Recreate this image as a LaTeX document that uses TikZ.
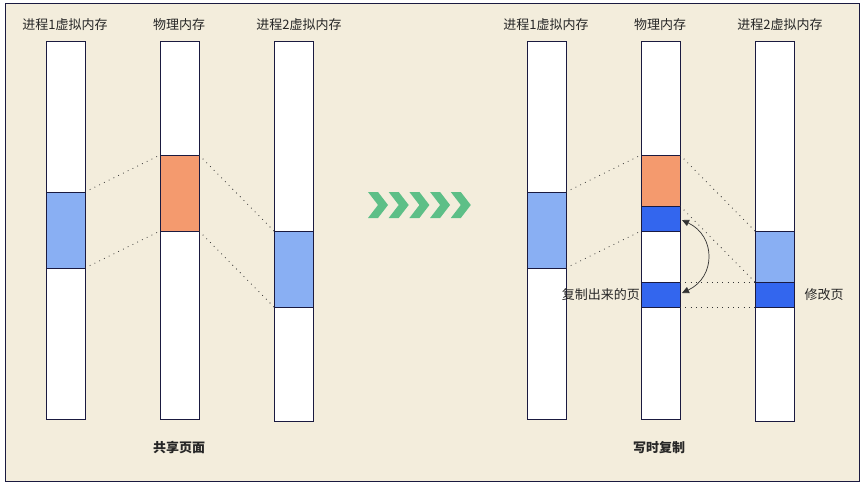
\documentclass[tikz,border=0pt]{standalone}
\usepackage{fontspec}
\newfontfamily\cjk{Noto Sans CJK SC}
\usetikzlibrary{arrows.meta}
\definecolor{bgc}{RGB}{243,237,220}
\definecolor{navy}{RGB}{26,26,64}
\definecolor{lblue}{RGB}{137,175,243}
\definecolor{dblue}{RGB}{51,102,238}
\definecolor{orng}{RGB}{244,154,110}
\definecolor{grn}{RGB}{93,191,135}
\tikzset{
  col/.style={draw=navy,fill=white,line width=0.9pt,rectangle,anchor=north west,minimum width=39pt,inner sep=0pt,outer sep=0pt},
  blk/.style={draw=navy,line width=0.9pt,rectangle,anchor=north west,minimum width=39pt,inner sep=0pt,outer sep=0pt},
  ttl/.style={font=\cjk\fontsize{13}{15}\selectfont,text=black!85,inner sep=0pt},
  captxt/.style={font=\cjk\bfseries\fontsize{13}{15}\selectfont,text=black!85,inner sep=0pt},
  dotl/.style={black!80,line width=0.8pt,dash pattern=on 0.8pt off 4.5pt},
}
\begin{document}
\begin{tikzpicture}[x=1pt,y=-1pt]
\useasboundingbox (0,0) rectangle (864,485);
\fill[white] (0,0) rectangle (864,485);
\draw[navy,fill=bgc,line width=0.9pt] (5,3) rectangle (859,481);
% ---------- left diagram ----------
\node[ttl] (tL1) at (65,25) {进程1虚拟内存};
\node[ttl] (tL2) at (179,25) {物理内存};
\node[ttl] (tL3) at (299,25) {进程2虚拟内存};
\node[col,minimum height=378pt] (L1) at (46,41) {};
\node[col,minimum height=378pt] (L2) at (160,41) {};
\node[col,minimum height=380pt] (L3) at (274,41) {};
\node[blk,fill=lblue,minimum height=76pt] (L1b) at (46,192) {};
\node[blk,fill=orng,minimum height=76pt] (L2o) at (160,155) {};
\node[blk,fill=lblue,minimum height=76pt] (L3b) at (274,231) {};
\draw[dotl] (L1b.north east) -- (L2o.north west);
\draw[dotl] (L1b.south east) -- (L2o.south west);
\draw[dotl] (L2o.north east) -- (L3b.north west);
\draw[dotl] (L2o.south east) -- (L3b.south west);
\node[captxt] (cL) at (179,448) {共享页面};
% ---------- chevrons ----------
\foreach \i in {0,...,4}{
  \fill[grn] ({368+20.7*\i},192) -- ++(10,0) -- ++(10,13) -- ++(-10,13) -- ++(-10,0) -- ++(10,-13) -- cycle;
}
% ---------- right diagram ----------
\node[ttl] (tR1) at (546,25) {进程1虚拟内存};
\node[ttl] (tR2) at (660,25) {物理内存};
\node[ttl] (tR3) at (780,25) {进程2虚拟内存};
\node[col,minimum height=378pt] (R1) at (527,41) {};
\node[col,minimum height=378pt] (R2) at (641,41) {};
\node[col,minimum height=380pt] (R3) at (755,41) {};
\node[blk,fill=lblue,minimum height=76pt] (R1b) at (527,192) {};
\node[blk,fill=orng,minimum height=51pt] (R2o) at (641,155) {};
\node[blk,fill=dblue,minimum height=25pt] (R2d) at (641,206) {};
\node[blk,fill=dblue,minimum height=25pt] (R2c) at (641,282) {};
\node[blk,fill=lblue,minimum height=51pt] (R3b) at (755,231) {};
\node[blk,fill=dblue,minimum height=25pt] (R3d) at (755,282) {};
\draw[dotl] (R1b.north east) -- (R2o.north west);
\draw[dotl] (R1b.south east) -- (R2d.south west);
\draw[dotl] (R2o.north east) -- (R3b.north west);
\draw[dotl] (R2d.north east) -- (R3d.north west);
\draw[dotl] (R2c.north east) -- (R3d.north west);
\draw[dotl] (R2c.south east) -- (R3d.south west);
\coordinate (aT) at (682,220);
\coordinate (aB) at (682,293);
\draw[black!80,line width=0.7pt,{Triangle[length=7pt,width=6.5pt]}-{Triangle[length=7pt,width=6.5pt]}] (aT) .. controls (716,236) and (716,277) .. (aB);
\node[ttl,anchor=east] (lc) at (640,295) {复制出来的页};
\node[ttl] (lm) at (824,295) {修改页};
\node[captxt] (cR) at (659,448) {写时复制};
\end{tikzpicture}
\end{document}
